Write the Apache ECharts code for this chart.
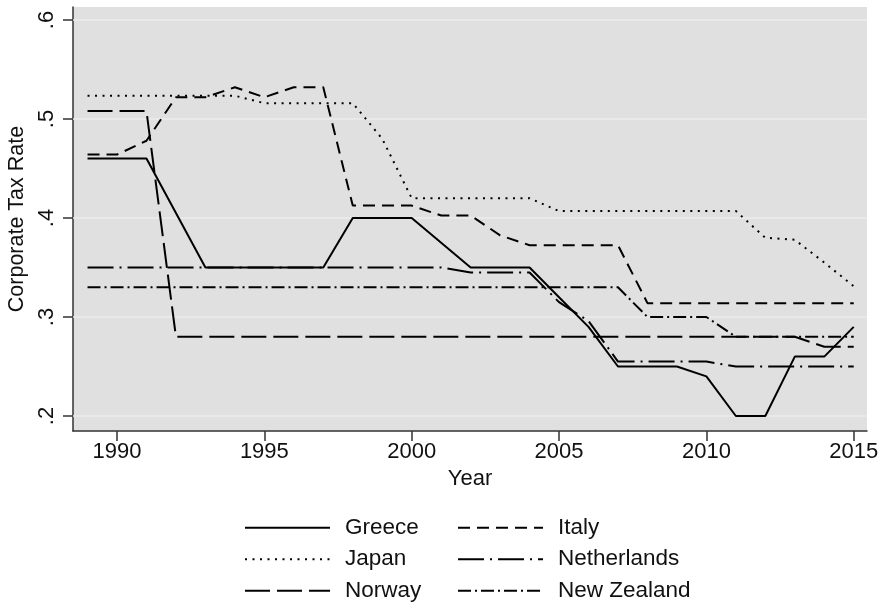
<!DOCTYPE html>
<html>
<head>
<meta charset="utf-8">
<script src="https://cdn.jsdelivr.net/npm/echarts@6/dist/echarts.min.js"></script>
<style>
  html, body { margin: 0; padding: 0; background: #fff; }
  #chart { width: 883px; height: 607px; }
</style>
</head>
<body>
<div id="chart"></div>
<script>
// years on the x axis
const years = [1989, 1990, 1991, 1992, 1993, 1994, 1995, 1996, 1997, 1998, 1999, 2000, 2001, 2002,
  2003, 2004, 2005, 2006, 2007, 2008, 2009, 2010, 2011, 2012, 2013, 2014, 2015];

const greece = [0.46, 0.46, 0.46, 0.405, 0.35, 0.35, 0.35, 0.35, 0.35, 0.40, 0.40, 0.40, 0.375, 0.35,
  0.35, 0.35, 0.32, 0.29, 0.25, 0.25, 0.25, 0.24, 0.20, 0.20, 0.26, 0.26, 0.29];
const italy = [0.464, 0.464, 0.478, 0.522, 0.522, 0.532, 0.522, 0.532, 0.532, 0.4125, 0.4125, 0.4125, 0.4025, 0.4025,
  0.3825, 0.3725, 0.3725, 0.3725, 0.3725, 0.314, 0.314, 0.314, 0.314, 0.314, 0.314, 0.314, 0.314];
const japan = [0.5235, 0.5235, 0.5235, 0.5235, 0.5235, 0.5235, 0.516, 0.516, 0.516, 0.516, 0.48, 0.42, 0.42, 0.42,
  0.42, 0.42, 0.407, 0.407, 0.407, 0.407, 0.407, 0.407, 0.407, 0.38, 0.378, 0.355, 0.331];
const netherlands = [0.35, 0.35, 0.35, 0.35, 0.35, 0.35, 0.35, 0.35, 0.35, 0.35, 0.35, 0.35, 0.35, 0.345,
  0.345, 0.345, 0.315, 0.296, 0.255, 0.255, 0.255, 0.255, 0.25, 0.25, 0.25, 0.25, 0.25];
const norway = [0.508, 0.508, 0.508, 0.28, 0.28, 0.28, 0.28, 0.28, 0.28, 0.28, 0.28, 0.28, 0.28, 0.28,
  0.28, 0.28, 0.28, 0.28, 0.28, 0.28, 0.28, 0.28, 0.28, 0.28, 0.28, 0.27, 0.27];
const newZealand = [0.33, 0.33, 0.33, 0.33, 0.33, 0.33, 0.33, 0.33, 0.33, 0.33, 0.33, 0.33, 0.33, 0.33,
  0.33, 0.33, 0.33, 0.33, 0.33, 0.30, 0.30, 0.30, 0.28, 0.28, 0.28, 0.28, 0.28];

// tick labels
const xTicks = [1990, 1995, 2000, 2005, 2010, 2015];
const yTicks = [0.2, 0.3, 0.4, 0.5, 0.6];

const FONT = "Liberation Sans, Arial, sans-serif";
const INK = "#111";

function pairs(vals) {
  return years.map((y, i) => [y, vals[i]]);
}

function lineSeries(name, vals, dash) {
  return {
    name: name,
    type: "line",
    data: pairs(vals),
    symbol: "none",
    z: 3,
    lineStyle: { color: "#000", width: 2, type: dash, cap: "butt" },
    itemStyle: { color: "#000" },
    emphasis: { disabled: true },
  };
}

const chart = echarts.init(document.getElementById("chart"));

const legendBase = {
  orient: "vertical",
  top: 512,
  height: 95,
  padding: 0,
  itemGap: 0,
  itemWidth: 85,
  itemHeight: 14,
  selectedMode: false,
  itemStyle: { opacity: 0 },
  textStyle: {
    fontFamily: FONT,
    fontSize: 22.5,
    color: INK,
    lineHeight: 31.5,
    padding: [0, 0, 0, 10],
  },
};

chart.setOption({
  animation: false,
  backgroundColor: "#fff",
  grid: {
    left: 73,
    top: 7,
    width: 794,
    height: 424,
    show: true,
    backgroundColor: "#e0e0e0",
    borderWidth: 0,
    containLabel: false,
    outerBoundsMode: "none",
  },
  legend: [
    Object.assign({}, legendBase, { left: 244, data: ["Greece", "Japan", "Norway"] }),
    Object.assign({}, legendBase, { left: 457, data: ["Italy", "Netherlands", "New Zealand"] }),
  ],
  xAxis: {
    type: "value",
    min: 1988.507,
    max: 2015.45,
    name: "Year",
    nameLocation: "middle",
    nameGap: 36,
    nameTextStyle: { fontFamily: FONT, fontSize: 22, color: INK },
    axisLine: { onZero: false, lineStyle: { color: "#333", width: 1.5 } },
    axisTick: { length: 10, customValues: xTicks, lineStyle: { color: "#333", width: 1.5 } },
    axisLabel: {
      customValues: xTicks,
      margin: 10,
      fontFamily: FONT,
      fontSize: 22,
      color: INK,
      formatter: (v) => String(v),
    },
    splitLine: { show: false },
  },
  yAxis: {
    type: "value",
    min: 0.18485,
    max: 0.6131,
    name: "Corporate Tax Rate",
    nameLocation: "middle",
    nameGap: 40,
    nameTextStyle: { fontFamily: FONT, fontSize: 21.5, color: INK },
    axisLine: { show: true, lineStyle: { color: "#333", width: 1.5 } },
    axisTick: { show: true, length: 10, customValues: yTicks, lineStyle: { color: "#333", width: 1.5 } },
    axisLabel: {
      customValues: yTicks,
      rotate: 90,
      margin: 15,
      fontFamily: FONT,
      fontSize: 22,
      color: INK,
      formatter: (v) => String(Math.round(v * 10) / 10).replace(/^0/, ""),
    },
    splitLine: { show: false },
  },
  series: [
    {
      name: "gridlines",
      type: "line",
      data: [],
      z: 1,
      silent: true,
      markLine: {
        silent: true,
        z: 1,
        symbol: "none",
        label: { show: false },
        emphasis: { disabled: true },
        lineStyle: { color: "#ececec", width: 1.5, type: "solid" },
        data: yTicks.map((v) => ({ yAxis: v })),
      },
    },
    lineSeries("Greece", greece, "solid"),
    lineSeries("Italy", italy, [12, 7]),
    lineSeries("Japan", japan, [2, 5.5]),
    lineSeries("Netherlands", netherlands, [26, 6, 2, 6]),
    lineSeries("Norway", norway, [25, 7]),
    lineSeries("New Zealand", newZealand, [13, 4, 2, 4]),
  ],
});
</script>
</body>
</html>
